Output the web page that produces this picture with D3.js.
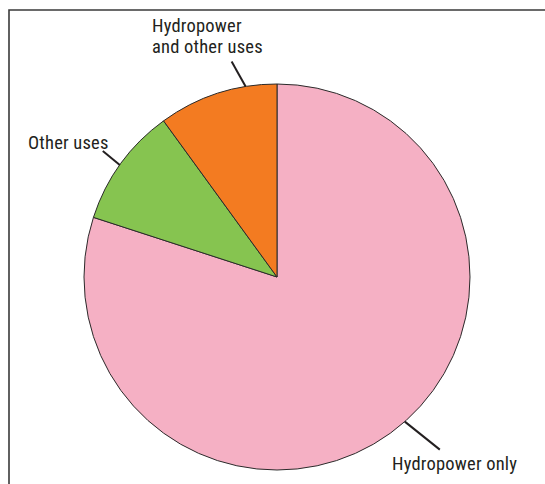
<!DOCTYPE html>
<html>
<head>
<meta charset="utf-8">
<script src="https://cdn.jsdelivr.net/npm/d3@7"></script>
<style>
  html, body { margin: 0; padding: 0; background: #fff; }
  svg { display: block; }
  text { font-family: "Liberation Sans Narrow", "Roboto Condensed", "DejaVu Sans Condensed", sans-serif; font-size: 18.5px; fill: #231f20; letter-spacing: 0.2px; }
</style>
</head>
<body>
<svg id="chart" width="545" height="484"></svg>
<script>
// Share of dams by purpose
const categories = ["Hydropower only", "Other uses", "Hydropower and other uses"];
const shares = [80, 10, 10];
const colors = ["#f5b0c4", "#86c450", "#f37b21"];
const labelLines = [["Hydropower only"], ["Other uses"], ["Hydropower", "and other uses"]];

const svg = d3.select("#chart");
const W = 545, H = 484;
const cx = 277, cy = 277, R = 193;

// frame
svg.append("path")
  .attr("d", `M9,${H} L9,10 L${W},10`)
  .attr("fill", "none")
  .attr("stroke", "#3a3a3a")
  .attr("stroke-width", 1.6);

const data = categories.map((c, i) => ({ name: c, value: shares[i], color: colors[i], lines: labelLines[i] }));

const pie = d3.pie().sort(null).value(d => d.value);
const arc = d3.arc().innerRadius(0).outerRadius(R);
const arcs = pie(data);

const g = svg.append("g").attr("transform", `translate(${cx},${cy})`);
g.selectAll("path.slice")
  .data(arcs)
  .join("path")
  .attr("class", "slice")
  .attr("d", arc)
  .attr("fill", d => d.data.color)
  .attr("stroke", "#2b2b2b")
  .attr("stroke-width", 1);

// leader lines: start point on the rim (fraction across slice), end offset outward
const leaders = [
  { frac: 0.481, dx: 35, dy: 28, tx: 392, ty: 470, anchor: "start" },
  { frac: 0.485, dx: -17, dy: -14, tx: 28, ty: 149, anchor: "start" },
  { frac: 0.74, dx: -14, dy: -25, tx: 152, ty: 32, anchor: "start" }
];

arcs.forEach((a, i) => {
  const L = leaders[i];
  const ang = a.startAngle + (a.endAngle - a.startAngle) * L.frac;
  const x0 = cx + R * Math.sin(ang);
  const y0 = cy - R * Math.cos(ang);
  svg.append("line")
    .attr("x1", x0).attr("y1", y0)
    .attr("x2", x0 + L.dx).attr("y2", y0 + L.dy)
    .attr("stroke", "#231f20")
    .attr("stroke-width", 2);
  const t = svg.append("text")
    .attr("x", L.tx).attr("y", L.ty)
    .attr("text-anchor", L.anchor);
  a.data.lines.forEach((ln, j) => {
    t.append("tspan").attr("x", L.tx).attr("dy", j === 0 ? 0 : 21).text(ln);
  });
});
</script>
</body>
</html>
